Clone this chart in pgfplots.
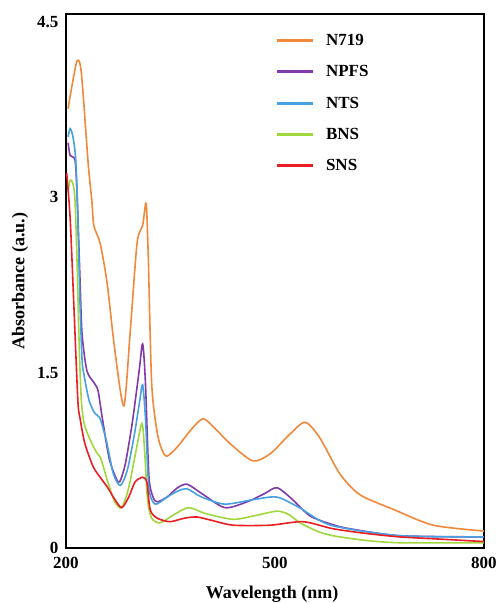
\documentclass[border=0pt]{standalone}
\usepackage{pgfplots}
\pgfplotsset{compat=1.18}
\usepackage{fontspec}
\setmainfont{Liberation Serif}
\definecolor{corange}{RGB}{242,136,58}
\definecolor{cpurple}{RGB}{128,58,170}
\definecolor{cblue}{RGB}{70,160,225}
\definecolor{cgreen}{RGB}{160,215,60}
\definecolor{cred}{RGB}{235,30,35}
\begin{document}
\begin{tikzpicture}
\begin{axis}[
 name=ax, scale only axis, width=418pt, height=534pt,
 xmin=200, xmax=800, ymin=-0.015, ymax=4.55,
 xtick={200,500,800}, xticklabels={200,500,800},
 ytick={0,1.5,3,4.5}, yticklabels={0,1.5,3,4.5},
 major tick length=0pt,
 axis line style={line width=2.2pt},
 tick label style={font=\fontsize{17}{20}\selectfont\bfseries},
 xticklabel style={yshift=-6pt},
 yticklabel style={xshift=-4pt, yshift=-2pt},
 xlabel={Wavelength (nm)}, ylabel={Absorbance (a.u.)},
 label style={font=\fontsize{18}{21}\selectfont\bfseries},
 xlabel style={at={(axis description cs:0.493,-0.094)}, anchor=base},
 ylabel style={at={(axis description cs:-0.11,0.5)}, anchor=center},
 legend style={at={(axis description cs:0.4996,0.966)}, anchor=north west, draw=none, fill=none,
   inner sep=0pt, font=\fontsize{17}{20}\selectfont\bfseries, row sep=14.5pt,
   /tikz/every odd column/.append style={column sep=10pt}},
 legend cell align=left,
 legend image code/.code={\draw[line width=3pt] (0pt,0pt) -- (36pt,0pt);},
 every axis plot/.append style={line width=1.6pt, smooth, tension=0.45},
]
\addplot[corange] coordinates {(203,3.74)(209,3.95)(216,4.15)(222,4.05)(232,3.26)(237,2.96)(240,2.74)(249,2.59)(259,2.25)(270,1.68)(283,1.2)(292,1.82)(302,2.59)(310,2.74)(315,2.93)(318,2.5)(323,1.39)(331,0.97)(338,0.82)(345,0.77)(360,0.85)(380,1.0)(397,1.09)(415,1.0)(435,0.88)(468,0.73)(493,0.79)(520,0.95)(543,1.06)(564,0.93)(593,0.62)(622,0.44)(672,0.31)(727,0.18)(800,0.13)};
\addlegendentry{N719}
\addplot[cpurple] coordinates {(203,3.45)(206,3.34)(213,3.3)(216,3.0)(220,2.3)(223,1.82)(230,1.5)(240,1.4)(246,1.33)(252,1.1)(262,0.75)(272,0.58)(277,0.55)(285,0.7)(295,1.05)(305,1.5)(310,1.73)(314,1.4)(319,0.6)(325,0.42)(331,0.38)(345,0.42)(360,0.5)(374,0.53)(395,0.45)(428,0.33)(460,0.38)(485,0.45)(503,0.5)(525,0.4)(550,0.26)(580,0.19)(607,0.15)(679,0.09)(800,0.08)};
\addlegendentry{NPFS}
\addplot[cblue] coordinates {(203,3.5)(206,3.57)(210,3.5)(214,3.3)(217,2.8)(220,2.1)(223,1.6)(226,1.46)(233,1.25)(241,1.14)(249,1.09)(258,0.9)(268,0.62)(278,0.52)(288,0.65)(298,0.95)(306,1.25)(310,1.38)(314,1.1)(319,0.5)(328,0.36)(345,0.42)(360,0.47)(374,0.49)(395,0.42)(428,0.36)(470,0.4)(503,0.42)(535,0.33)(580,0.18)(679,0.09)(800,0.08)};
\addlegendentry{NTS}
\addplot[cgreen] coordinates {(203,3.04)(206,3.13)(210,3.1)(213,2.95)(216,2.4)(219,1.7)(222,1.25)(226,1.05)(234,0.92)(244,0.8)(250,0.75)(260,0.55)(270,0.38)(280,0.33)(290,0.5)(300,0.8)(309,1.05)(313,0.8)(317,0.4)(323,0.24)(335,0.2)(355,0.27)(376,0.33)(400,0.28)(440,0.23)(470,0.26)(503,0.3)(520,0.27)(536,0.2)(560,0.13)(583,0.09)(630,0.05)(679,0.03)(800,0.03)};
\addlegendentry{BNS}
\addplot[cred] coordinates {(201,3.19)(206,2.8)(211,2.1)(217,1.25)(220,1.1)(227,0.88)(239,0.68)(249,0.59)(260,0.5)(270,0.4)(280,0.33)(290,0.42)(299,0.55)(306,0.58)(310,0.59)(316,0.55)(321,0.31)(331,0.24)(349,0.21)(370,0.24)(388,0.25)(410,0.22)(440,0.18)(493,0.18)(540,0.21)(583,0.15)(630,0.11)(679,0.08)(740,0.06)(800,0.04)};
\addlegendentry{SNS}
\end{axis}
\pgfresetboundingbox
\path ([shift={(-66pt,-55pt)}]ax.south west) rectangle ([shift={(437pt,548pt)}]ax.south west);
\end{tikzpicture}
\end{document}
